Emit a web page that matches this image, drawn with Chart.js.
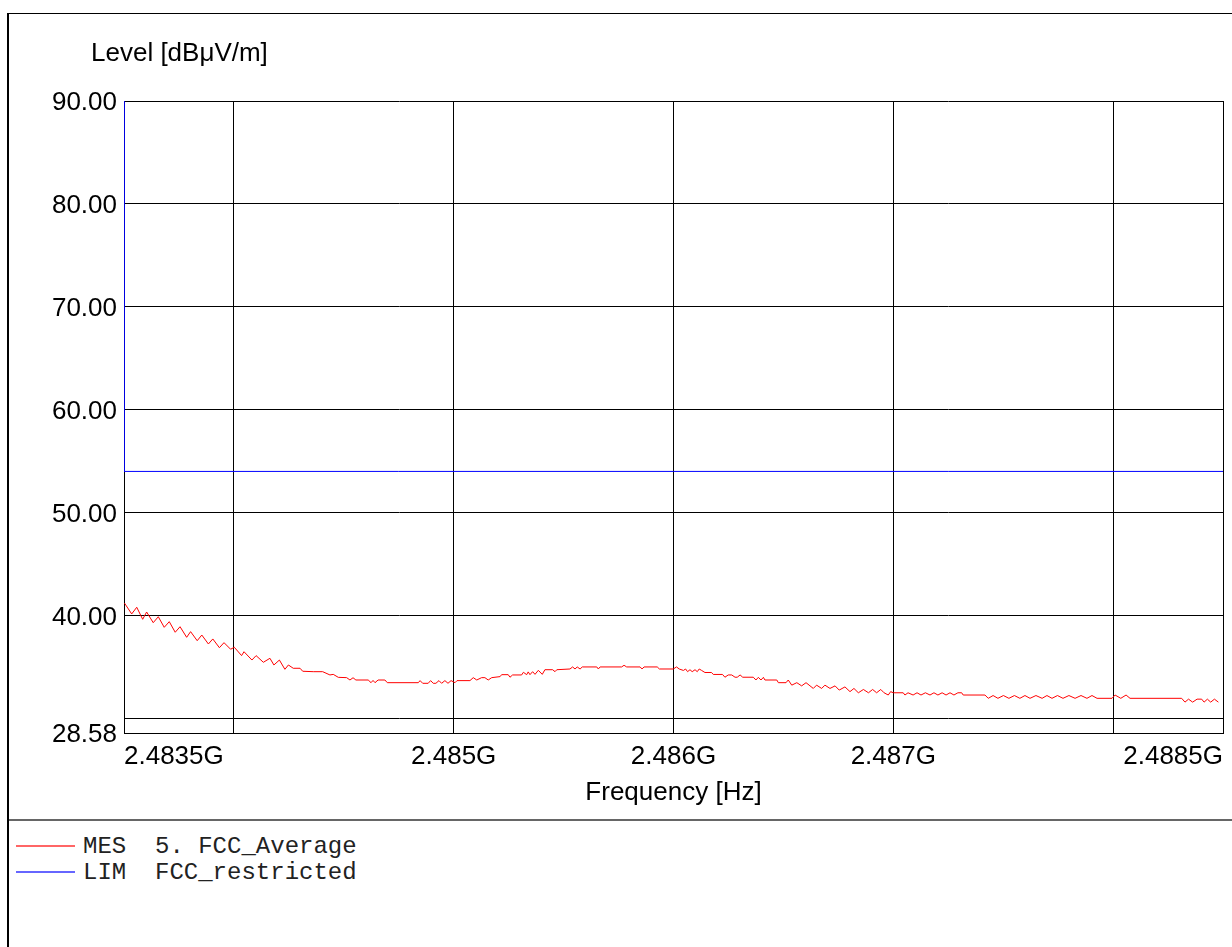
<!DOCTYPE html>
<html>
<head>
<meta charset="utf-8">
<script src="https://cdn.jsdelivr.net/npm/chart.js@4/dist/chart.umd.min.js"></script>
<style>
  html, body { margin: 0; padding: 0; background: #fff; width: 1232px; height: 947px; overflow: hidden; }
  #frame { position: absolute; left: 7px; top: 13px; width: 1300px; height: 1000px; border-left: 2px solid #000; border-top: 1px solid #000; }
  #sep { position: absolute; left: 9px; top: 819px; width: 1300px; height: 0; border-top: 2px solid #666; }
  #chart { position: absolute; left: 0; top: 0; }
  #ytitle { position: absolute; left: 91px; top: 37px; font-family: "Liberation Sans", Arial, sans-serif; font-size: 26px; line-height: 30px; color: #000; white-space: pre; }
  #legend { position: absolute; left: 16px; top: 833px; font-family: "Liberation Mono", "Courier New", monospace; font-size: 24px; color: #222; }
  .row { height: 26px; display: flex; align-items: center; white-space: pre; }
  .swatch { width: 59px; height: 0; border-top: 2px solid; margin-right: 8px; opacity: 0.6; }
</style>
</head>
<body>
<div id="frame"></div>
<div id="sep"></div>
<canvas id="chart" width="1232" height="818"></canvas>
<div id="ytitle"></div>
<div id="legend"></div>
<script>
// ---- data ----
const yAxisTitle = 'Level [dBμV/m]';
const xAxisTitle = 'Frequency [Hz]';
const mesLabel = 'MES  5. FCC_Average';
const limLabel = 'LIM  FCC_restricted';

const freqMHz = [
  2483.502, 2483.535, 2483.558, 2483.585, 2483.603, 2483.633, 2483.656, 2483.683, 2483.706, 2483.733,
  2483.755, 2483.785, 2483.803, 2483.833, 2483.854, 2483.884, 2483.904, 2483.934, 2483.955, 2483.985,
  2484.002, 2484.035, 2484.046, 2484.082, 2484.101, 2484.134, 2484.164, 2484.182, 2484.207, 2484.232,
  2484.248, 2484.270, 2484.301, 2484.313, 2484.361, 2484.404, 2484.437, 2484.452, 2484.475, 2484.513,
  2484.528, 2484.542, 2484.555, 2484.611, 2484.624, 2484.633, 2484.642, 2484.656, 2484.687, 2484.698,
  2484.839, 2484.847, 2484.859, 2484.884, 2484.895, 2484.907, 2484.919, 2484.933, 2484.945, 2484.960,
  2484.974, 2484.988, 2485.006, 2485.015, 2485.074, 2485.089, 2485.105, 2485.127, 2485.142, 2485.157,
  2485.173, 2485.211, 2485.218, 2485.248, 2485.256, 2485.268, 2485.309, 2485.317, 2485.332, 2485.339,
  2485.347, 2485.359, 2485.370, 2485.385, 2485.403, 2485.415, 2485.450, 2485.461, 2485.469, 2485.529,
  2485.541, 2485.552, 2485.562, 2485.575, 2485.585, 2485.651, 2485.658, 2485.666, 2485.764, 2485.775,
  2485.787, 2485.848, 2485.857, 2485.866, 2485.926, 2485.936, 2485.999, 2486.014, 2486.026, 2486.045,
  2486.055, 2486.064, 2486.075, 2486.085, 2486.098, 2486.108, 2486.117, 2486.128, 2486.143, 2486.173,
  2486.181, 2486.223, 2486.234, 2486.249, 2486.265, 2486.280, 2486.290, 2486.303, 2486.315, 2486.363,
  2486.375, 2486.386, 2486.398, 2486.409, 2486.416, 2486.470, 2486.477, 2486.512, 2486.522, 2486.538,
  2486.561, 2486.583, 2486.603, 2486.636, 2486.651, 2486.674, 2486.689, 2486.712, 2486.735, 2486.754,
  2486.780, 2486.803, 2486.821, 2486.841, 2486.864, 2486.887, 2486.906, 2486.924, 2486.943, 2486.958,
  2486.977, 2486.988, 2487.000, 2487.045, 2487.053, 2487.067, 2487.090, 2487.108, 2487.126, 2487.146,
  2487.167, 2487.185, 2487.203, 2487.222, 2487.240, 2487.258, 2487.276, 2487.294, 2487.311, 2487.318,
  2487.417, 2487.432, 2487.454, 2487.476, 2487.501, 2487.526, 2487.551, 2487.576, 2487.599, 2487.622,
  2487.649, 2487.677, 2487.699, 2487.722, 2487.747, 2487.772, 2487.799, 2487.827, 2487.854, 2487.881,
  2487.904, 2487.927, 2487.995, 2488.009, 2488.035, 2488.059, 2488.077, 2488.312, 2488.327, 2488.343,
  2488.362, 2488.382, 2488.403, 2488.414, 2488.429, 2488.444, 2488.461, 2488.479
];

const levelDbuv = [
  41.21, 40.15, 40.80, 39.63, 40.34, 39.30, 39.88, 38.85, 39.40, 38.37,
  38.91, 37.88, 38.43, 37.55, 38.10, 37.23, 37.72, 36.87, 37.36, 36.72,
  36.91, 36.10, 36.48, 35.67, 36.10, 35.45, 35.84, 35.19, 35.67, 34.77,
  35.19, 34.87, 34.87, 34.58, 34.54, 34.54, 34.22, 34.28, 33.99, 33.96,
  33.73, 33.95, 33.73, 33.73, 33.47, 33.69, 33.47, 33.73, 33.73, 33.47,
  33.47, 33.67, 33.41, 33.41, 33.67, 33.41, 33.41, 33.67, 33.41, 33.67,
  33.41, 33.67, 33.47, 33.67, 33.67, 33.96, 33.73, 33.96, 33.96, 33.73,
  33.96, 34.06, 34.25, 34.25, 34.00, 34.22, 34.22, 34.48, 34.25, 34.52,
  34.25, 34.54, 34.28, 34.67, 34.28, 34.73, 34.73, 34.54, 34.73, 34.80,
  35.00, 34.80, 35.00, 34.80, 35.00, 35.00, 34.80, 35.00, 35.00, 35.16,
  35.00, 35.00, 34.80, 35.00, 35.00, 34.80, 34.80, 35.00, 34.80, 34.66,
  34.80, 34.54, 34.73, 34.54, 34.73, 34.54, 34.80, 34.66, 34.46, 34.46,
  34.27, 34.27, 34.00, 34.22, 34.22, 34.00, 34.00, 34.22, 34.00, 34.00,
  33.73, 33.99, 33.73, 33.99, 33.73, 33.73, 33.47, 33.47, 33.73, 33.23,
  33.47, 33.16, 33.47, 32.91, 33.23, 32.91, 33.23, 32.91, 33.16, 32.75,
  33.06, 32.60, 32.91, 32.49, 32.81, 32.49, 32.81, 32.49, 32.81, 32.49,
  32.27, 32.60, 32.49, 32.49, 32.27, 32.49, 32.27, 32.49, 32.27, 32.49,
  32.27, 32.49, 32.27, 32.49, 32.27, 32.49, 32.27, 32.49, 32.49, 32.27,
  32.27, 31.95, 32.22, 31.95, 32.22, 31.95, 32.22, 31.95, 32.22, 31.95,
  32.22, 31.95, 32.22, 31.95, 32.22, 31.95, 32.22, 31.95, 32.22, 31.95,
  32.22, 31.95, 31.95, 32.27, 31.95, 32.27, 31.95, 31.95, 31.58, 31.87,
  31.58, 31.87, 31.87, 31.58, 31.87, 31.58, 31.87, 31.58
];

const limitFreqMHz = [2483.5, 2483.5, 2488.5];
const limitLevel = [90, 54, 54];

const xTickValues = [2483.5, 2484, 2485, 2486, 2487, 2488, 2488.5];
const xUnlabeled = [2484, 2488];
const yTickValues = [28.58, 30, 40, 50, 60, 70, 80, 90];
const yUnlabeled = [30];

// ---- chart ----
const FONT = '"Liberation Sans", Arial, Helvetica, sans-serif';
const mesData = freqMHz.map((f, i) => ({ x: f, y: levelDbuv[i] }));
const limData = limitFreqMHz.map((f, i) => ({ x: f, y: limitLevel[i] }));

document.getElementById('ytitle').textContent = yAxisTitle;

const chart = new Chart(document.getElementById('chart'), {
  type: 'line',
  data: {
    datasets: [
      { label: mesLabel, data: mesData, borderColor: '#ff0000', borderWidth: 1, pointRadius: 0, tension: 0, fill: false },
      { label: limLabel, data: limData, borderColor: '#0000ff', borderWidth: 1, pointRadius: 0, tension: 0, fill: false }
    ]
  },
  options: {
    responsive: false,
    animation: false,
    events: [],
    layout: { padding: { left: 0, right: 9, top: 101, bottom: 0 } },
    plugins: {
      legend: { display: false },
      tooltip: { enabled: false },
      title: { display: false }
    },
    scales: {
      x: {
        type: 'linear', min: xTickValues[0], max: xTickValues[xTickValues.length - 1],
        afterBuildTicks: s => { s.ticks = xTickValues.map(v => ({ value: v })); },
        afterFit: s => { s.height = 85; },
        grid: { color: '#000', lineWidth: 1, drawTicks: false },
        border: { color: '#000', width: 1 },
        ticks: {
          align: 'inner', padding: 8, maxRotation: 0, autoSkip: false, color: '#000',
          font: { family: FONT, size: 26 },
          callback: v => xUnlabeled.includes(v) ? '' : (+(v / 1000).toFixed(5)) + 'G'
        },
        title: { display: true, text: xAxisTitle, color: '#000', font: { family: FONT, size: 26 }, padding: { top: 0, bottom: 10 } }
      },
      y: {
        type: 'linear', min: yTickValues[0], max: yTickValues[yTickValues.length - 1],
        afterBuildTicks: s => { s.ticks = yTickValues.map(v => ({ value: v })); },
        afterFit: s => { s.width = 124; },
        grid: { color: '#000', lineWidth: 1, drawTicks: false },
        border: { color: '#000', width: 1 },
        ticks: {
          padding: 7, labelOffset: 2, autoSkip: false, color: '#000',
          font: { family: FONT, size: 26 },
          callback: v => yUnlabeled.includes(v) ? '' : v.toFixed(2)
        }
      }
    }
  }
});

// ---- legend built from the datasets ----
const legendEl = document.getElementById('legend');
chart.data.datasets.forEach(ds => {
  const row = document.createElement('div');
  row.className = 'row';
  const sw = document.createElement('span');
  sw.className = 'swatch';
  sw.style.borderTopColor = ds.borderColor;
  const tx = document.createElement('span');
  tx.textContent = ds.label;
  row.appendChild(sw);
  row.appendChild(tx);
  legendEl.appendChild(row);
});
</script>
</body>
</html>
